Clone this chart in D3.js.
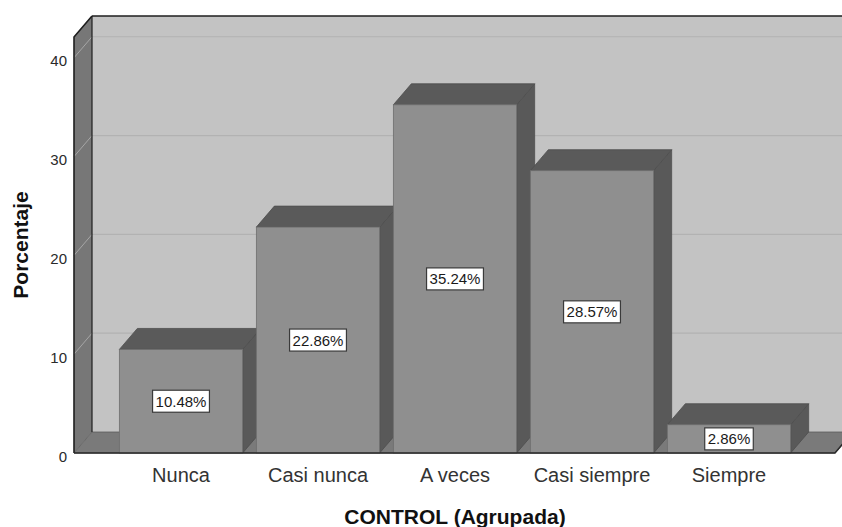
<!DOCTYPE html>
<html>
<head>
<meta charset="utf-8">
<script src="https://cdn.jsdelivr.net/npm/d3@7/dist/d3.min.js"></script>
<style>
  html, body { margin: 0; padding: 0; background: #ffffff; }
  svg { display: block; font-family: "Liberation Sans", Arial, sans-serif; }
</style>
</head>
<body>
<svg id="chart" width="842" height="527"></svg>
<script>
// Distribución porcentual de CONTROL (Agrupada)
const categories = ["Nunca", "Casi nunca", "A veces", "Casi siempre", "Siempre"];
const percentages = [10.48, 22.86, 35.24, 28.57, 2.86];
const yTicks = [0, 10, 20, 30, 40];
const xTitle = "CONTROL (Agrupada)";
const yTitle = "Porcentaje";

const W = 842, H = 527;
const depthX = 18, depthY = 21;          // 3D depth offset
const frontLeft = 74, frontRight = 835;  // front edge of the floor

const svg = d3.select("#chart");

const x = d3.scaleBand()
  .domain(categories)
  .range([112.5, 797.5])
  .paddingInner(0.1)
  .paddingOuter(0.05);

const y = d3.scaleLinear()
  .domain([0, 42.1])
  .range([453, 37]);

const poly = pts => "M" + pts.map(p => p.join(",")).join("L") + "Z";

// Back wall
const wallTop = y(42.1) - depthY;
const wallBottom = y(0) - depthY;
svg.append("rect")
  .attr("x", frontLeft + depthX).attr("y", wallTop)
  .attr("width", W - frontLeft - depthX + 20).attr("height", wallBottom - wallTop)
  .attr("fill", "#c3c3c3");

// Left side wall
svg.append("path")
  .attr("d", poly([[frontLeft, y(42.1)], [frontLeft + depthX, wallTop],
                   [frontLeft + depthX, wallBottom], [frontLeft, y(0)]]))
  .attr("fill", "#777777");

// Gridlines on the back wall and the side wall
const grid = svg.append("g");
yTicks.filter(t => t > 0).forEach(t => {
  grid.append("line")
    .attr("x1", frontLeft + depthX).attr("x2", W + 10)
    .attr("y1", y(t) - depthY).attr("y2", y(t) - depthY)
    .attr("stroke", "#b2b2b2").attr("stroke-width", 1.2);
  grid.append("line")
    .attr("x1", frontLeft).attr("x2", frontLeft + depthX)
    .attr("y1", y(t)).attr("y2", y(t) - depthY)
    .attr("stroke", "#a6a6a6").attr("stroke-width", 1);
});

// Floor
svg.append("path")
  .attr("d", poly([[frontLeft, y(0)], [frontLeft + depthX, wallBottom],
                   [frontRight + depthX, wallBottom], [frontRight, y(0)]]))
  .attr("fill", "#7a7a7a")
  .attr("stroke", "#5a5a5a").attr("stroke-width", 0.8);

// Frame edges
const frame = svg.append("g").attr("fill", "none").attr("stroke", "#1e1e1e").attr("stroke-width", 1.6);
frame.append("path").attr("d", poly([[frontLeft, y(0)], [frontLeft, y(42.1)], [frontLeft + depthX, wallTop]]).replace("Z", ""));
frame.append("line").attr("x1", frontLeft + depthX).attr("x2", W + 10).attr("y1", wallTop).attr("y2", wallTop);
frame.append("line").attr("x1", frontLeft + depthX).attr("x2", frontLeft + depthX).attr("y1", wallTop).attr("y2", wallBottom)
  .attr("stroke-width", 1.2);

// Bars
const bars = svg.append("g");
categories.forEach((c, i) => {
  const v = percentages[i];
  const x0 = x(c), x1 = x(c) + x.bandwidth();
  const yt = y(v), yb = y(0);
  const g = bars.append("g");
  // side face
  g.append("path")
    .attr("d", poly([[x1, yt], [x1 + depthX, yt - depthY], [x1 + depthX, yb - depthY], [x1, yb]]))
    .attr("fill", "#595959").attr("stroke", "#4e4e4e").attr("stroke-width", 0.8);
  // top face
  g.append("path")
    .attr("d", poly([[x0, yt], [x0 + depthX, yt - depthY], [x1 + depthX, yt - depthY], [x1, yt]]))
    .attr("fill", "#5a5a5a").attr("stroke", "#4e4e4e").attr("stroke-width", 0.8);
  // front face
  g.append("rect")
    .attr("x", x0).attr("y", yt)
    .attr("width", x.bandwidth()).attr("height", yb - yt)
    .attr("fill", "#8f8f8f").attr("stroke", "#6e6e6e").attr("stroke-width", 0.8);
});

// Front baseline
svg.append("path")
  .attr("d", `M${frontLeft},${y(0)}L${frontRight},${y(0)}L${frontRight + depthX},${wallBottom}`)
  .attr("fill", "none").attr("stroke", "#2a2a2a").attr("stroke-width", 1.6);

// Value labels
const fmt = d3.format(".2f");
categories.forEach((c, i) => {
  const v = percentages[i];
  const cx = x(c) + x.bandwidth() / 2;
  const cy = (y(v) + y(0)) / 2;
  const g = svg.append("g");
  const t = g.append("text")
    .attr("x", cx).attr("y", cy)
    .attr("text-anchor", "middle").attr("dominant-baseline", "central")
    .attr("font-size", 15).attr("fill", "#1a1a1a")
    .text(fmt(v) + "%");
  const bb = t.node().getBBox();
  g.insert("rect", "text")
    .attr("x", bb.x - 3).attr("y", cy - 11)
    .attr("width", bb.width + 6).attr("height", 22)
    .attr("fill", "#ffffff").attr("stroke", "#3a3a3a").attr("stroke-width", 1.2);
});

// Y tick labels
svg.append("g").selectAll("text").data(yTicks).join("text")
  .attr("x", 67).attr("y", d => y(d) + 3)
  .attr("text-anchor", "end").attr("dominant-baseline", "central")
  .attr("font-size", 15).attr("fill", "#2a2a2a")
  .text(d => d);

// Category labels
svg.append("g").selectAll("text").data(categories).join("text")
  .attr("x", d => x(d) + x.bandwidth() / 2).attr("y", 482)
  .attr("text-anchor", "middle")
  .attr("font-size", 20).attr("fill", "#333333")
  .text(d => d);

// Axis titles
svg.append("text")
  .attr("x", 455).attr("y", 524)
  .attr("text-anchor", "middle")
  .attr("font-size", 21).attr("font-weight", "bold").attr("fill", "#111111")
  .text(xTitle);

svg.append("text")
  .attr("transform", "translate(28,245) rotate(-90)")
  .attr("text-anchor", "middle")
  .attr("font-size", 21).attr("font-weight", "bold").attr("fill", "#111111")
  .text(yTitle);
</script>
</body>
</html>
